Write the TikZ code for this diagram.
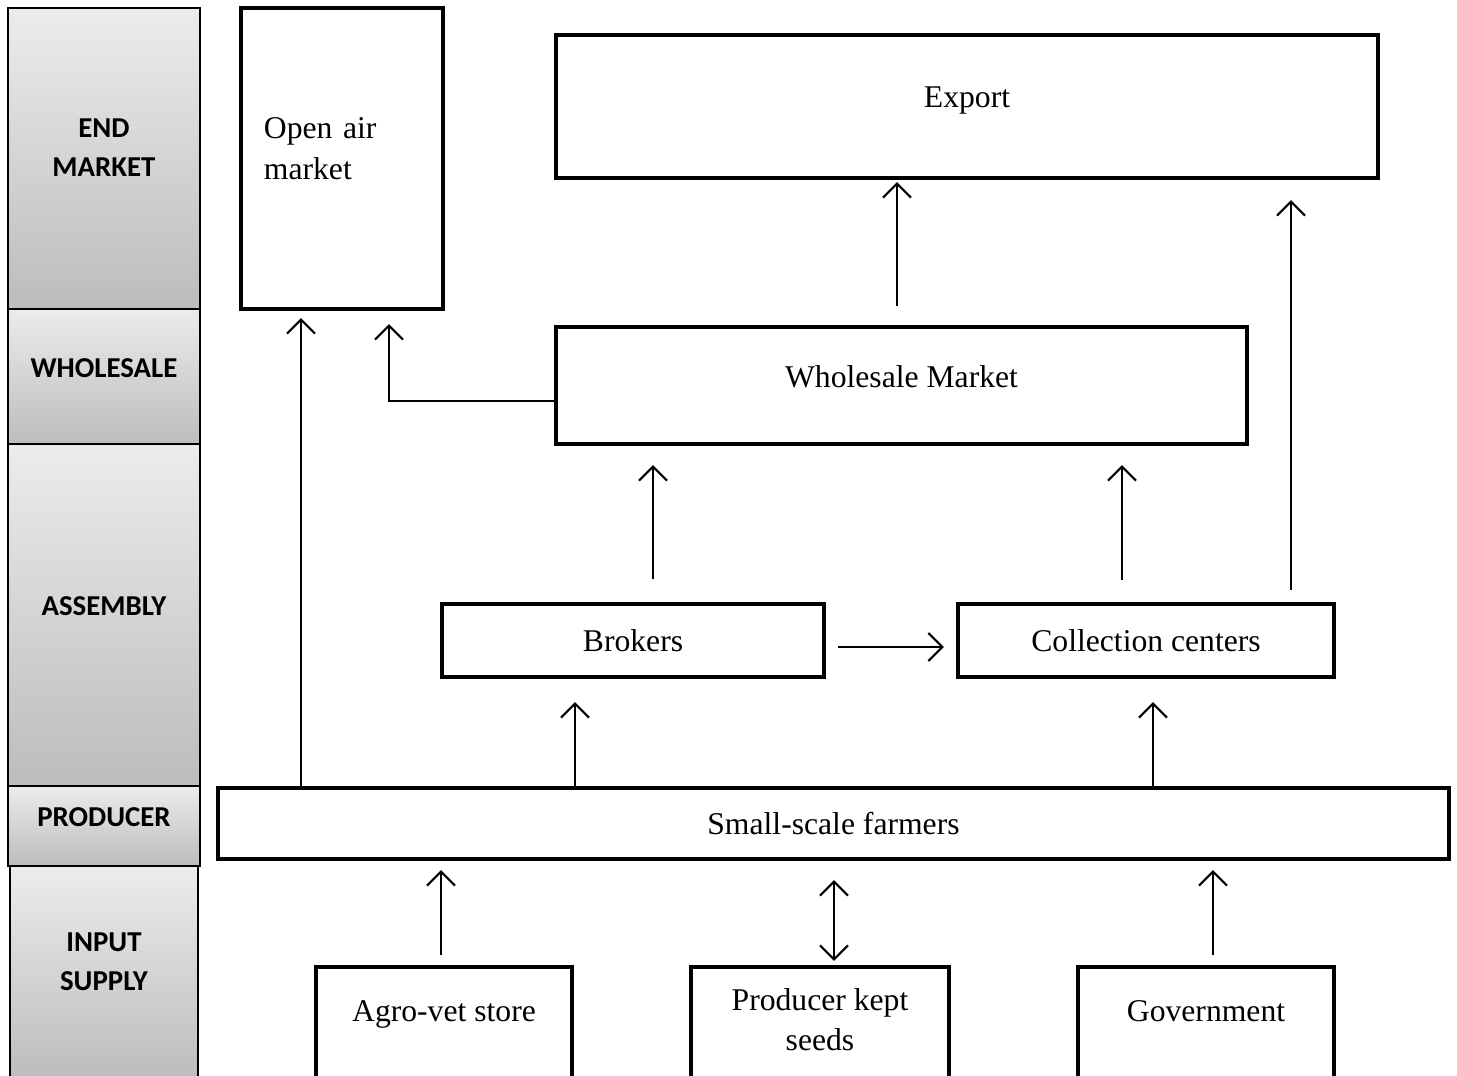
\documentclass[tikz,border=0pt]{standalone}
\usepackage{fontspec}
\setmainfont{Liberation Serif}
\newfontfamily\stagefam{Carlito}
\usetikzlibrary{arrows.meta}

\definecolor{stagetop}{RGB}{236,236,236}
\definecolor{stagebot}{RGB}{188,188,188}

\tikzset{
  stage/.style={draw, line width=0.6pt, top color=stagetop, bottom color=stagebot,
    align=center, inner sep=0pt, minimum width=1.92cm,
    font=\stagefam\bfseries\fontsize{8.2}{11.1}\selectfont},
  box/.style={draw, line width=1.2pt, inner sep=0pt, align=center,
    font=\fontsize{9}{11.4}\selectfont},
  up/.style={text height=0.55em, text depth=0.5em},
  uptwo/.style={text depth=0.22cm},
  flow/.style={line width=0.6pt, -{Straight Barb[length=1.4mm,width=2.8mm]}},
}

\begin{document}
\begin{tikzpicture}[x=0.01cm, y=-0.01cm]
  \useasboundingbox (0,0) rectangle (1457,1076);

  % stages on the left
  \node[stage, uptwo, minimum height=3.01cm] (endm) at (104,158.5) {END\\MARKET};
  \node[stage, up, minimum height=1.35cm] (whls) at (104,376.5) {WHOLESALE};
  \node[stage, up, minimum height=3.42cm] (asm) at (104,615) {ASSEMBLY};
  \node[stage, up, minimum height=0.80cm] (prod) at (104,826) {PRODUCER};
  \node[stage, uptwo, minimum width=1.88cm, minimum height=2.14cm] (inp) at (104,973) {INPUT\\SUPPLY};

  % actors
  \node[box, text depth=0.60cm, align=left, text width=1.56cm, minimum width=2.02cm, minimum height=3.01cm] (open) at (342,158.5) {Open air\\market};
  \node[box, up, minimum width=8.22cm, minimum height=1.43cm] (export) at (967,106.5) {Export};
  \node[box, up, text height=0.6em, minimum width=6.91cm, minimum height=1.17cm] (whole) at (901.5,385.5) {Wholesale Market};
  \node[box, minimum width=3.82cm, minimum height=0.73cm] (brk) at (633,640.5) {Brokers};
  \node[box, minimum width=3.76cm, minimum height=0.73cm] (coll) at (1146,640.5) {Collection centers};
  \node[box, minimum width=12.31cm, minimum height=0.71cm] (farm) at (833.5,823.5) {Small-scale farmers};
  \node[box, up, text depth=0.65em, minimum width=2.56cm, minimum height=1.13cm] (agro) at (444,1023.5) {Agro-vet store};
  \node[box, text depth=0.08cm, minimum width=2.58cm, minimum height=1.13cm] (seed) at (820,1023.5) {Producer kept\\seeds};
  \node[box, up, text depth=0.65em, minimum width=2.56cm, minimum height=1.13cm] (gov) at (1206,1023.5) {Government};

  % flows
  \draw[flow, shorten >=0.07cm] (301,0 |- farm.north) -- (301,0 |- open.south);
  \draw[flow, shorten >=0.13cm] (whole.west |- 0,401) -- (389,401) -- (389,0 |- open.south);
  \draw[flow, shorten <=0.19cm, shorten >=0.02cm] (897,0 |- whole.north) -- (897,0 |- export.south);
  \draw[flow, shorten <=0.12cm, shorten >=0.20cm] (1291,0 |- coll.north) -- (1291,0 |- export.south);
  \draw[flow, shorten <=0.23cm, shorten >=0.19cm] (653,0 |- brk.north) -- (653,0 |- whole.south);
  \draw[flow, shorten <=0.22cm, shorten >=0.19cm] (1122,0 |- coll.north) -- (1122,0 |- whole.south);
  \draw[flow, shorten <=0.12cm, shorten >=0.12cm] (brk.east |- 0,647) -- (coll.west |- 0,647);
  \draw[flow, shorten >=0.23cm] (575,0 |- farm.north) -- (575,0 |- brk.south);
  \draw[flow, shorten >=0.23cm] (1153,0 |- farm.north) -- (1153,0 |- coll.south);
  \draw[flow, shorten <=0.10cm, shorten >=0.09cm] (441,0 |- agro.north) -- (441,0 |- farm.south);
  \draw[flow, {Straight Barb[length=1.4mm,width=2.8mm]}-{Straight Barb[length=1.4mm,width=2.8mm]}, shorten <=0.04cm, shorten >=0.19cm] (834,0 |- seed.north) -- (834,0 |- farm.south);
  \draw[flow, shorten <=0.10cm, shorten >=0.09cm] (1213,0 |- gov.north) -- (1213,0 |- farm.south);
\end{tikzpicture}
\end{document}
